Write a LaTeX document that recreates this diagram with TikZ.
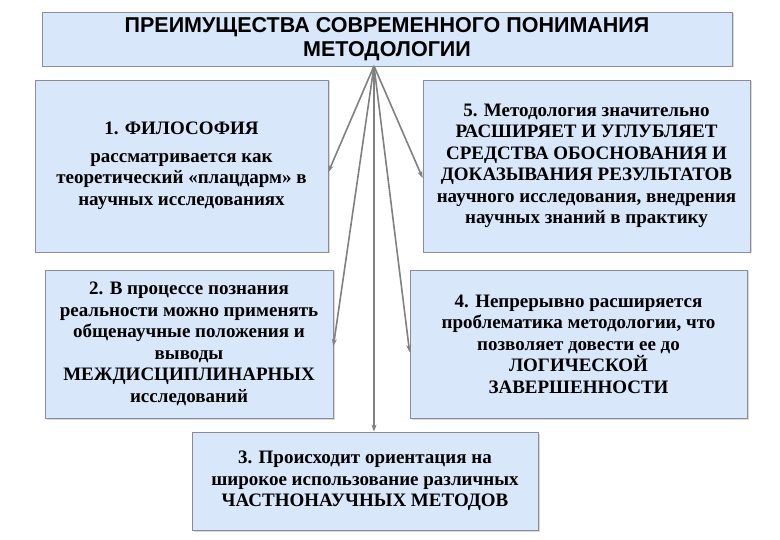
\documentclass[tikz,border=0pt]{standalone}
\usepackage{fontspec}
\setmainfont{Liberation Serif}
\newfontfamily\tsans{Liberation Sans}
\usetikzlibrary{shadows,arrows.meta}
\definecolor{boxfill}{RGB}{216,231,250}
\definecolor{boxline}{RGB}{140,140,150}
\definecolor{arr}{RGB}{128,128,128}
\tikzset{
  pbox/.style={draw=boxline, fill=boxfill, line width=0.8pt, align=center, inner sep=2pt,
    font=\bfseries\fontsize{19}{21.5}\selectfont, drop shadow={shadow xshift=1.5pt, shadow yshift=-1.5pt, fill=gray!60}},
  conn/.style={draw=arr, line width=1.6pt, -{Stealth[length=7pt,width=5pt]}}
}
\begin{document}
\begin{tikzpicture}[x=1pt,y=-1pt]
\useasboundingbox (0,0) rectangle (780,540);
\node[pbox, minimum width=690pt, minimum height=54pt, font=\tsans\bfseries\fontsize{21.5}{24}\selectfont] (t) at (387,39) {ПРЕИМУЩЕСТВА СОВРЕМЕННОГО ПОНИМАНИЯ\\МЕТОДОЛОГИИ};
\node[pbox, minimum width=293pt, minimum height=172pt] (b1) at (181.5,166) {1. ФИЛОСОФИЯ\\[6pt]рассматривается как\\теоретический «плацдарм» в\\научных исследованиях};
\node[pbox, minimum width=327pt, minimum height=172pt] (b5) at (586.5,166) {5. Методология значительно\\РАСШИРЯЕТ И УГЛУБЛЯЕТ\\СРЕДСТВА ОБОСНОВАНИЯ И\\ДОКАЗЫВАНИЯ РЕЗУЛЬТАТОВ\\научного исследования, внедрения\\научных знаний в практику};
\node[pbox, minimum width=288pt, minimum height=148pt] (b2) at (189,344) {2. В процессе познания\\реальности можно применять\\общенаучные положения и\\выводы\\МЕЖДИСЦИПЛИНАРНЫХ\\исследований};
\node[pbox, minimum width=337pt, minimum height=148pt] (b4) at (578.5,344) {4. Непрерывно расширяется\\проблематика методологии, что\\позволяет довести ее до\\ЛОГИЧЕСКОЙ\\ЗАВЕРШЕННОСТИ};
\node[pbox, minimum width=346pt, minimum height=98pt] (b3) at (365,481) {3. Происходит ориентация на\\широкое использование различных\\ЧАСТНОНАУЧНЫХ МЕТОДОВ};
\coordinate (o) at (374,66);
\draw[conn] (o) -- (b1.east |- 0,172);
\draw[conn] (o) -- (b5.west |- 0,178);
\draw[conn] (o) -- (b2.east |- 0,346);
\draw[conn] (o) -- (b4.west |- 0,352);
\draw[conn] (o) -- (o |- b3.north);
\end{tikzpicture}
\end{document}
